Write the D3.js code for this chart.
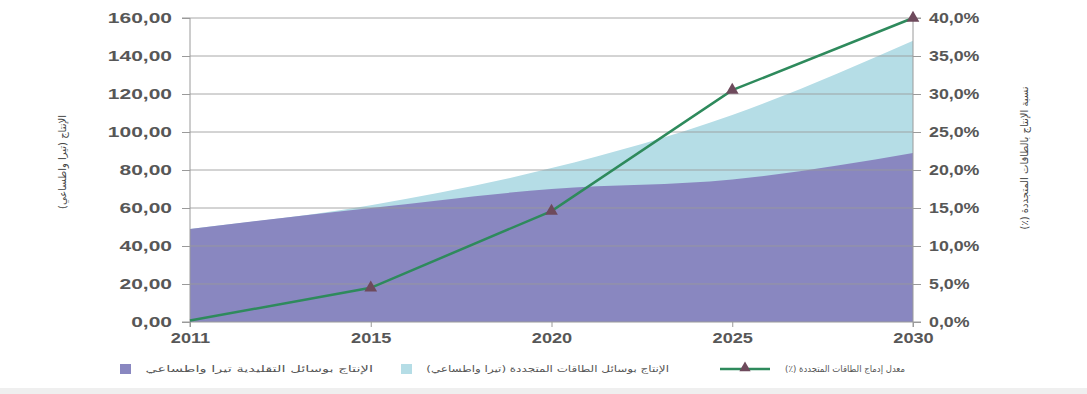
<!DOCTYPE html>
<html><head><meta charset="utf-8">
<script src="https://cdn.jsdelivr.net/npm/d3@7"></script>
<style>body{margin:0;background:#fff}svg{display:block}</style>
</head><body>
<svg id="c" width="1087" height="394"></svg>
<script>
const years = ["2011","2015","2020","2025","2030"];
const traditional = [49, 60, 70, 75, 89];
const renewable = [0, 1.5, 11, 34, 59];
const rate = [0.2, 4.5, 14.6, 30.5, 40.0];
const leftTicks = [0,20,40,60,80,100,120,140,160];
const rightTicks = [0,5,10,15,20,25,30,35,40];
const leftTitle = "الإنتاج (تيرا واطساعي)";
const rightTitle = "نسبة الإنتاج بالطاقات المتجددة (٪)";
const legendLabels = ["الإنتاج بوسائل التقليدية تيرا واطساعي","الإنتاج بوسائل الطاقات المتجددة (تيرا واطساعي)","معدل إدماج الطاقات المتجددة (٪)"];

const svg = d3.select("#c");
const L=190, R=913, T=18, B=322;
const x = d3.scalePoint().domain(years).range([L,R]);
const y = d3.scaleLinear().domain([0,160]).range([B,T]);
const y2 = d3.scaleLinear().domain([0,40]).range([B,T]);
const font = "'Liberation Sans', Arial, sans-serif";

const data = years.map((yr,i)=>({yr, t:traditional[i], r:renewable[i], p:rate[i]}));

svg.append("path").datum(data)
  .attr("d", d3.area().x(d=>x(d.yr)).y0(y(0)).y1(d=>y(d.t+d.r)).curve(d3.curveMonotoneX))
  .attr("fill","#b5dde6");
svg.append("path").datum(data)
  .attr("d", d3.area().x(d=>x(d.yr)).y0(y(0)).y1(d=>y(d.t)).curve(d3.curveMonotoneX))
  .attr("fill","#8987c0");

svg.append("g").selectAll("line").data(leftTicks.filter(v=>v>0)).join("line")
  .attr("x1",L).attr("x2",R).attr("y1",d=>y(d)).attr("y2",d=>y(d))
  .attr("stroke","#9a9a9a").attr("stroke-width",1).attr("opacity",0.85);

const ga = svg.append("g").attr("transform",`translate(${L},0)`)
  .call(d3.axisLeft(y).tickValues(leftTicks).tickSize(8)
  .tickFormat(d=>d3.format(".2f")(d).replace(".",",")));
const gb = svg.append("g").attr("transform",`translate(${R},0)`)
  .call(d3.axisRight(y2).tickValues(rightTicks).tickSize(8)
  .tickFormat(d=>d3.format(".1f")(d).replace(".",",")+"%"));
const gc = svg.append("g").attr("transform",`translate(0,${B})`)
  .call(d3.axisBottom(x).tickSize(5).tickPadding(6));
[ga,gb,gc].forEach(g=>{
  g.select(".domain").attr("stroke","#9a9a9a");
  g.selectAll(".tick line").attr("stroke","#9a9a9a");
  g.selectAll("text").attr("font-family",font).attr("font-size",14).attr("fill","#3a3a3a").attr("font-weight","bold").attr("opacity",0.85);
});
ga.select(".domain").attr("d",`M-8,${T}H0V${B}H-8`);
gb.select(".domain").attr("d",`M8,${T}H0V${B}H8`);
gc.select(".domain").attr("d",`M${L},5V0H${R}V5`);
const sL=1.5, sR=1.27, sB=1.3;
ga.selectAll(".tick text").attr("x",-18/sL).attr("transform",`scale(${sL},1)`);
gb.selectAll(".tick text").attr("x",16/sR).attr("transform",`scale(${sR},1)`);
gc.selectAll(".tick text").attr("transform",`scale(${sB},1)`).attr("x",0);
gc.selectAll(".tick").each(function(){ /* keep centered: scale around tick origin */ });

svg.append("path").datum(data)
  .attr("d", d3.line().x(d=>x(d.yr)).y(d=>y2(d.p)))
  .attr("fill","none").attr("stroke","#2e8a5c").attr("stroke-width",2.5);
svg.append("g").selectAll("path").data(data.slice(1)).join("path")
  .attr("transform",d=>`translate(${x(d.yr)},${y2(d.p)})`)
  .attr("d", d3.symbol(d3.symbolTriangle, 70))
  .attr("fill","#6e4a5c");

svg.append("text").attr("transform","translate(63,162) rotate(-90)")
  .attr("direction","rtl").attr("text-anchor","middle").attr("dominant-baseline","middle")
  .attr("font-family","'DejaVu Sans', sans-serif").attr("font-size",10).attr("fill","#444")
  .text(leftTitle);
svg.append("text").attr("transform","translate(1025,158) rotate(-90)")
  .attr("direction","rtl").attr("text-anchor","middle").attr("dominant-baseline","middle")
  .attr("font-family","'DejaVu Sans', sans-serif").attr("font-size",10).attr("fill","#444")
  .text(rightTitle);

const lg = svg.append("g").attr("font-family","'DejaVu Sans', sans-serif").attr("font-size",9).attr("fill","#555");
function legText(label, right, width){
  const t = lg.append("text").attr("x",0).attr("y",0).attr("direction","rtl")
    .attr("text-anchor","start").attr("dominant-baseline","middle").text(label);
  const w = t.node().getComputedTextLength();
  t.attr("transform",`translate(${right},369) scale(${width/w},1)`);
}
lg.append("rect").attr("x",120).attr("y",364).attr("width",11).attr("height",10).attr("fill","#8987c0");
legText(legendLabels[0], 373, 228);
lg.append("rect").attr("x",401).attr("y",364).attr("width",11).attr("height",10).attr("fill","#b5dde6");
legText(legendLabels[1], 669, 243);
lg.append("line").attr("x1",720).attr("x2",770).attr("y1",369).attr("y2",369).attr("stroke","#2e8a5c").attr("stroke-width",2.5);
lg.append("path").attr("transform","translate(745,368)").attr("d",d3.symbol(d3.symbolTriangle,55)).attr("fill","#6e4a5c");
legText(legendLabels[2], 905, 120);

svg.append("rect").attr("x",0).attr("y",388).attr("width",1087).attr("height",6).attr("fill","#efefef");
</script>
</body></html>
